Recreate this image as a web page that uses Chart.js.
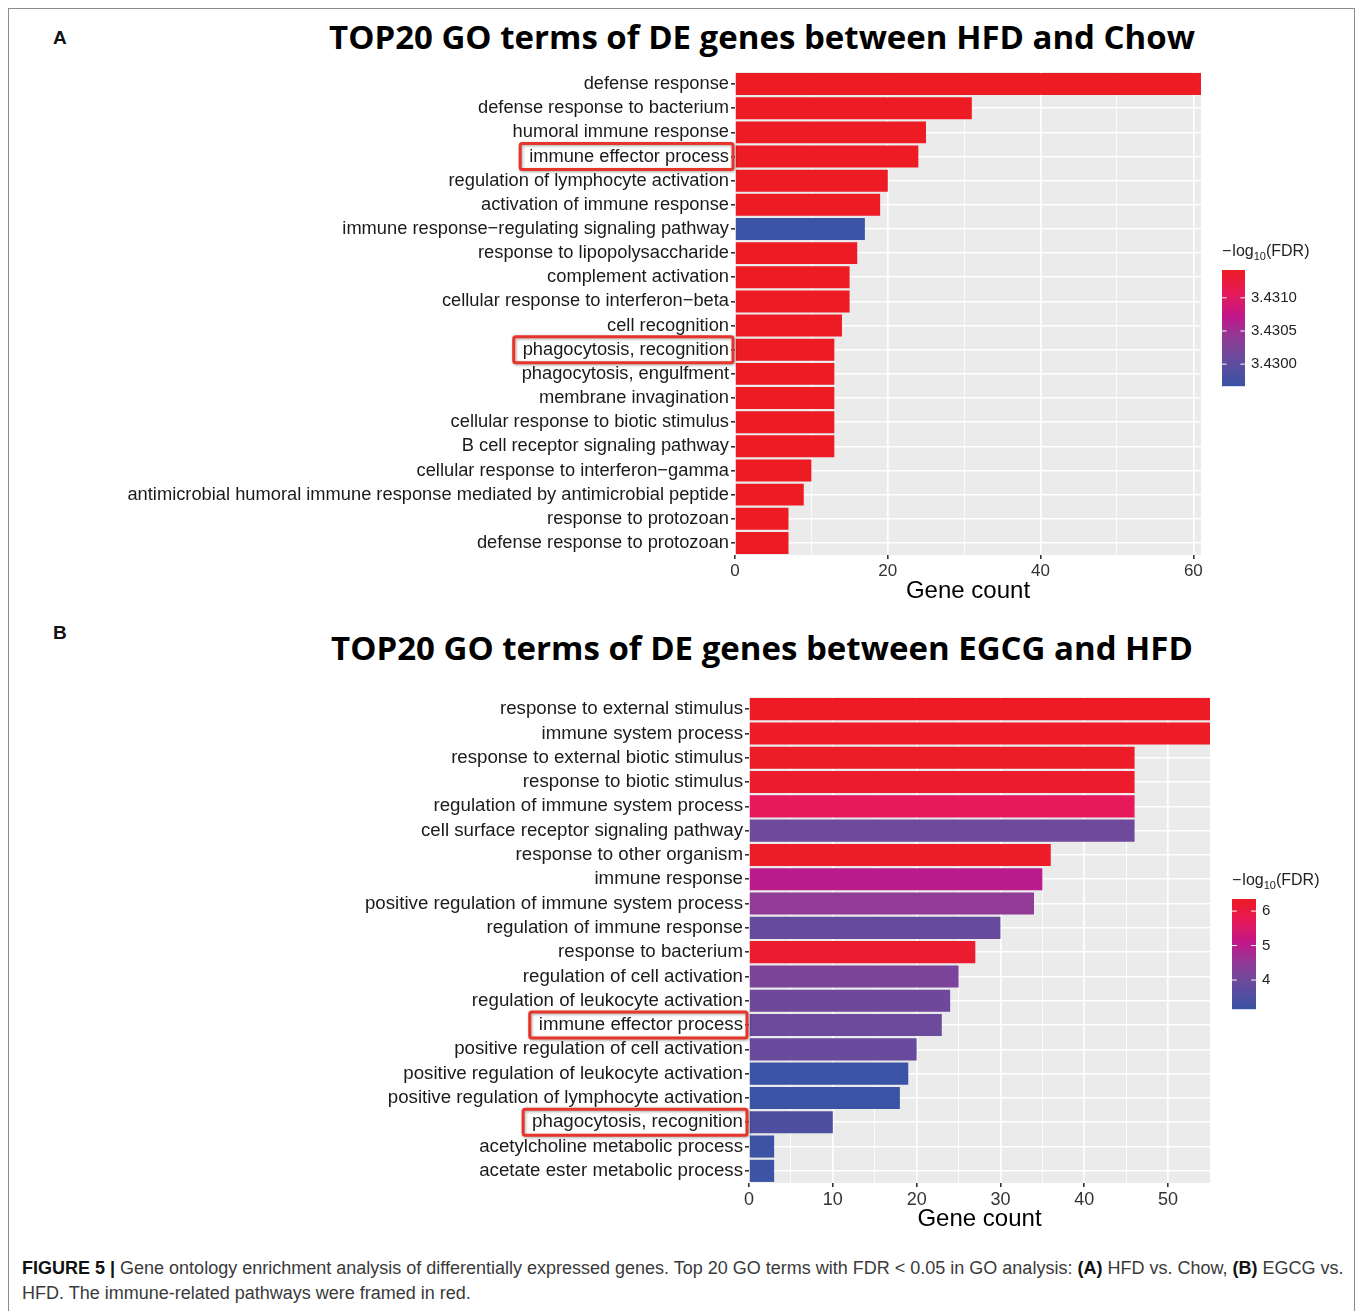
<!DOCTYPE html>
<html>
<head>
<meta charset="utf-8">
<script src="https://cdn.jsdelivr.net/npm/chart.js@4"></script>
<style>
  body { margin: 0; background: #fff; width: 1358px; height: 1311px; position: relative; overflow: hidden; font-family: "Liberation Sans", Arial, sans-serif; }
  #border { position: absolute; left: 8px; top: 8px; width: 1347px; height: 1320px; border: 1px solid #8c8c8c; box-sizing: border-box; }
  .wrap { position: absolute; left: 0; width: 1358px; }
  #wrapA { top: 0; height: 610px; }
  #wrapB { top: 615px; height: 620px; }
  .tag { position: absolute; font-weight: bold; font-size: 19px; color: #111; }
  .title { position: absolute; left: 262px; width: 1000px; text-align: center; font-family: "Open Sans", sans-serif; font-weight: 700; font-size: 33px; line-height: 40px; color: #000; white-space: nowrap; }
  #caption { position: absolute; left: 22px; top: 1256px; font-size: 18px; line-height: 25px; color: #3a3a3a; white-space: nowrap; }
  #caption b { color: #111; }
</style>
</head>
<body>
<div id="border"></div>
<div class="tag" style="left:53px;top:27px">A</div>
<div class="tag" style="left:53px;top:622px">B</div>
<div class="title" style="top:17px">TOP20 GO terms of DE genes between HFD and Chow</div>
<div class="title" style="top:628px">TOP20 GO terms of DE genes between EGCG and HFD</div>
<div class="wrap" id="wrapA"><canvas id="chartA" width="1358" height="610"></canvas></div>
<div class="wrap" id="wrapB"><canvas id="chartB" width="1358" height="620"></canvas></div>
<div id="caption"><b>FIGURE 5 |</b> Gene ontology enrichment analysis of differentially expressed genes. Top 20 GO terms with FDR &lt; 0.05 in GO analysis: <b>(A)</b> HFD vs. Chow, <b>(B)</b> EGCG vs.<br>HFD. The immune-related pathways were framed in red.</div>

<script>
// Panel A: HFD vs Chow
const termsA = [
    'defense response',
    'defense response to bacterium',
    'humoral immune response',
    'immune effector process',
    'regulation of lymphocyte activation',
    'activation of immune response',
    'immune response\u2212regulating signaling pathway',
    'response to lipopolysaccharide',
    'complement activation',
    'cellular response to interferon\u2212beta',
    'cell recognition',
    'phagocytosis, recognition',
    'phagocytosis, engulfment',
    'membrane invagination',
    'cellular response to biotic stimulus',
    'B cell receptor signaling pathway',
    'cellular response to interferon\u2212gamma',
    'antimicrobial humoral immune response mediated by antimicrobial peptide',
    'response to protozoan',
    'defense response to protozoan',
];
const countsA = [61, 31, 25, 24, 20, 19, 17, 16, 15, 15, 14, 13, 13, 13, 13, 13, 10, 9, 7, 7];
const fdrA = [3.43142, 3.43142, 3.43142, 3.43142, 3.43142, 3.43142, 3.42967, 3.43142, 3.43142, 3.43142,
              3.43142, 3.43142, 3.43142, 3.43142, 3.43142, 3.43142, 3.43142, 3.43142, 3.43142, 3.43142];
const legendTicksA = [3.4300, 3.4305, 3.4310];
const framedA = ['immune effector process', 'phagocytosis, recognition'];

// Panel B: EGCG vs HFD
const termsB = [
    'response to external stimulus',
    'immune system process',
    'response to external biotic stimulus',
    'response to biotic stimulus',
    'regulation of immune system process',
    'cell surface receptor signaling pathway',
    'response to other organism',
    'immune response',
    'positive regulation of immune system process',
    'regulation of immune response',
    'response to bacterium',
    'regulation of cell activation',
    'regulation of leukocyte activation',
    'immune effector process',
    'positive regulation of cell activation',
    'positive regulation of leukocyte activation',
    'positive regulation of lymphocyte activation',
    'phagocytosis, recognition',
    'acetylcholine metabolic process',
    'acetate ester metabolic process',
];
const countsB = [55, 55, 46, 46, 46, 46, 36, 35, 34, 30, 27, 25, 24, 23, 20, 19, 18, 10, 3, 3];
const fdrB = [6.35, 6.32, 6.3, 6.25, 5.7, 3.99, 6.3, 5.0, 4.5, 3.86, 6.22, 4.18, 4.02, 3.96, 3.89, 3.16, 3.17, 3.48, 3.2, 3.2];
const legendTicksB = [4, 5, 6];
const framedB = ['immune effector process', 'phagocytosis, recognition'];

// blue -> purple -> magenta -> red, as the printed gradient looks
const rampStops = [
    [0, [58, 83, 164]],
    [0.25, [108, 74, 156]],
    [0.42, [145, 58, 150]],
    [0.6, [192, 24, 138]],
    [0.8, [230, 25, 90]],
    [1, [237, 28, 36]],
];

function rampColour(t) {
    t = Math.max(0, Math.min(1, t));
    for (let i = 1; i < rampStops.length; i++) {
        const [t1, c1] = rampStops[i];
        const [t0, c0] = rampStops[i - 1];
        if (t <= t1) {
            const f = (t - t0) / (t1 - t0);
            const c = c0.map((v, k) => Math.round(v + (c1[k] - v) * f));
            return `rgb(${c[0]},${c[1]},${c[2]})`;
        }
    }
    return 'rgb(237,28,36)';
}

const LABEL_FONT = '"Liberation Sans", Arial, sans-serif';

const panelBackground = {
    id: 'panelBackground',
    beforeDraw(chart) {
        const { ctx, chartArea } = chart;
        ctx.save();
        ctx.fillStyle = '#ebebeb';
        ctx.fillRect(chartArea.left, chartArea.top, chartArea.right - chartArea.left, chartArea.bottom - chartArea.top);
        ctx.restore();
    },
};

const redFrames = {
    id: 'redFrames',
    afterDraw(chart, args, opts) {
        const { ctx, chartArea } = chart;
        const yScale = chart.scales.y;
        ctx.save();
        ctx.font = `${opts.size}px ${LABEL_FONT}`;
        opts.terms.forEach(term => {
            const i = chart.data.labels.indexOf(term);
            if (i < 0) return;
            const yc = yScale.getPixelForValue(i);
            const w = ctx.measureText(term).width;
            const right = chartArea.left - 2;
            const left = chartArea.left - 6 - w - 9;
            ctx.shadowColor = 'rgba(0,0,0,0.35)';
            ctx.shadowBlur = 3;
            ctx.shadowOffsetX = 1;
            ctx.shadowOffsetY = 1;
            ctx.strokeStyle = '#e8352b';
            ctx.lineWidth = 3;
            ctx.beginPath();
            ctx.roundRect(left, yc - 13, right - left, 26, 2);
            ctx.stroke();
        });
        ctx.restore();
    },
};

const fdrLegend = {
    id: 'fdrLegend',
    afterDraw(chart, args, opts) {
        const { ctx } = chart;
        const { x, y, w, h, lo, hi, ticks, digits } = opts;
        ctx.save();
        // gradient bar
        for (let row = 0; row < h; row++) {
            ctx.fillStyle = rampColour(1 - row / (h - 1));
            ctx.fillRect(x, y + row, w, 1.2);
        }
        // ticks and labels
        ctx.font = `15px ${LABEL_FONT}`;
        ctx.fillStyle = '#222';
        ctx.textBaseline = 'middle';
        ctx.textAlign = 'left';
        ticks.forEach(v => {
            const ty = y + (hi - v) / (hi - lo) * h;
            ctx.strokeStyle = '#fff';
            ctx.lineWidth = 1;
            ctx.beginPath();
            ctx.moveTo(x, ty); ctx.lineTo(x + w * 0.2, ty);
            ctx.moveTo(x + w * 0.8, ty); ctx.lineTo(x + w, ty);
            ctx.stroke();
            ctx.fillText(v.toFixed(digits), x + w + 6, ty);
        });
        // title: -log10(FDR)
        ctx.textBaseline = 'alphabetic';
        ctx.font = `16px ${LABEL_FONT}`;
        let tx = x;
        const ty = y - 14;
        ctx.fillText('\u2212', tx, ty); tx += ctx.measureText('\u2212').width + 1;
        ctx.fillText('log', tx, ty); tx += ctx.measureText('log').width;
        ctx.font = `11px ${LABEL_FONT}`;
        ctx.fillText('10', tx, ty + 4); tx += ctx.measureText('10').width;
        ctx.font = `16px ${LABEL_FONT}`;
        ctx.fillText('(FDR)', tx, ty);
        ctx.restore();
    },
};

function renderPanel(canvasId, terms, counts, fdr, cfg) {
    const lo = Math.min(...fdr);
    const hi = Math.max(...fdr);
    const colours = fdr.map(v => rampColour((v - lo) / (hi - lo)));
    const isMajor = v => v % cfg.major === 0;

    const ctx = document.getElementById(canvasId).getContext('2d');
    return new Chart(ctx, {
        type: 'bar',
        data: {
            labels: terms,
            datasets: [
                {
                    label: 'Gene count',
                    data: counts,
                    backgroundColor: colours,
                    barPercentage: 0.91,
                    categoryPercentage: 1,
                },
            ],
        },
        plugins: [panelBackground, redFrames, fdrLegend],
        options: {
            indexAxis: 'y',
            responsive: false,
            animation: false,
            layout: {
                padding: { left: 0, top: cfg.top, right: cfg.padRight, bottom: 0 },
            },
            plugins: {
                legend: { display: false },
                tooltip: { enabled: false },
                redFrames: { terms: cfg.framed, size: cfg.labelSize },
                fdrLegend: {
                    x: cfg.legendX, y: cfg.legendY, w: cfg.legendW, h: cfg.legendH,
                    lo, hi, ticks: cfg.legendTicks, digits: cfg.digits,
                },
            },
            scales: {
                x: {
                    min: 0,
                    max: cfg.max,
                    afterFit: s => { s.height = cfg.xAxisHeight; },
                    border: { display: false },
                    grid: {
                        color: '#ffffff',
                        lineWidth: c => (c.tick && isMajor(c.tick.value) ? 1.6 : 0.8),
                        tickColor: c => (c.tick && isMajor(c.tick.value) ? '#333' : 'rgba(0,0,0,0)'),
                        tickLength: 4,
                    },
                    ticks: {
                        stepSize: cfg.minor,
                        includeBounds: false,
                        autoSkip: false,
                        maxRotation: 0,
                        padding: 2,
                        color: '#333',
                        font: { family: LABEL_FONT, size: cfg.tickSize },
                        callback: v => (isMajor(v) ? v : ''),
                    },
                    title: {
                        display: true,
                        text: 'Gene count',
                        color: '#000',
                        font: { family: LABEL_FONT, size: 24 },
                        padding: { top: 0, bottom: cfg.titlePad },
                    },
                },
                y: {
                    afterFit: s => { s.width = cfg.left; },
                    border: { display: false },
                    grid: {
                        color: '#ffffff',
                        lineWidth: 1.6,
                        offset: false,
                        tickColor: '#333',
                        tickLength: 4,
                    },
                    ticks: {
                        autoSkip: false,
                        padding: 2,
                        color: '#1a1a1a',
                        font: { family: LABEL_FONT, size: cfg.labelSize },
                    },
                },
            },
        },
    });
}

renderPanel('chartA', termsA, countsA, fdrA, {
    max: 61, major: 20, minor: 10, left: 735, padRight: 157, top: 72,
    xAxisHeight: 55, titlePad: 4, labelSize: 18.3, tickSize: 17,
    legendX: 1222, legendY: 270, legendW: 23, legendH: 116, legendTicks: legendTicksA, digits: 4,
    framed: framedA,
});

renderPanel('chartB', termsB, countsB, fdrB, {
    max: 55, major: 10, minor: 5, left: 749, padRight: 148, top: 82,
    xAxisHeight: 52, titlePad: 1, labelSize: 18.7, tickSize: 18,
    legendX: 1232, legendY: 284, legendW: 24, legendH: 110, legendTicks: legendTicksB, digits: 0,
    framed: framedB,
});
</script>
</body>
</html>
